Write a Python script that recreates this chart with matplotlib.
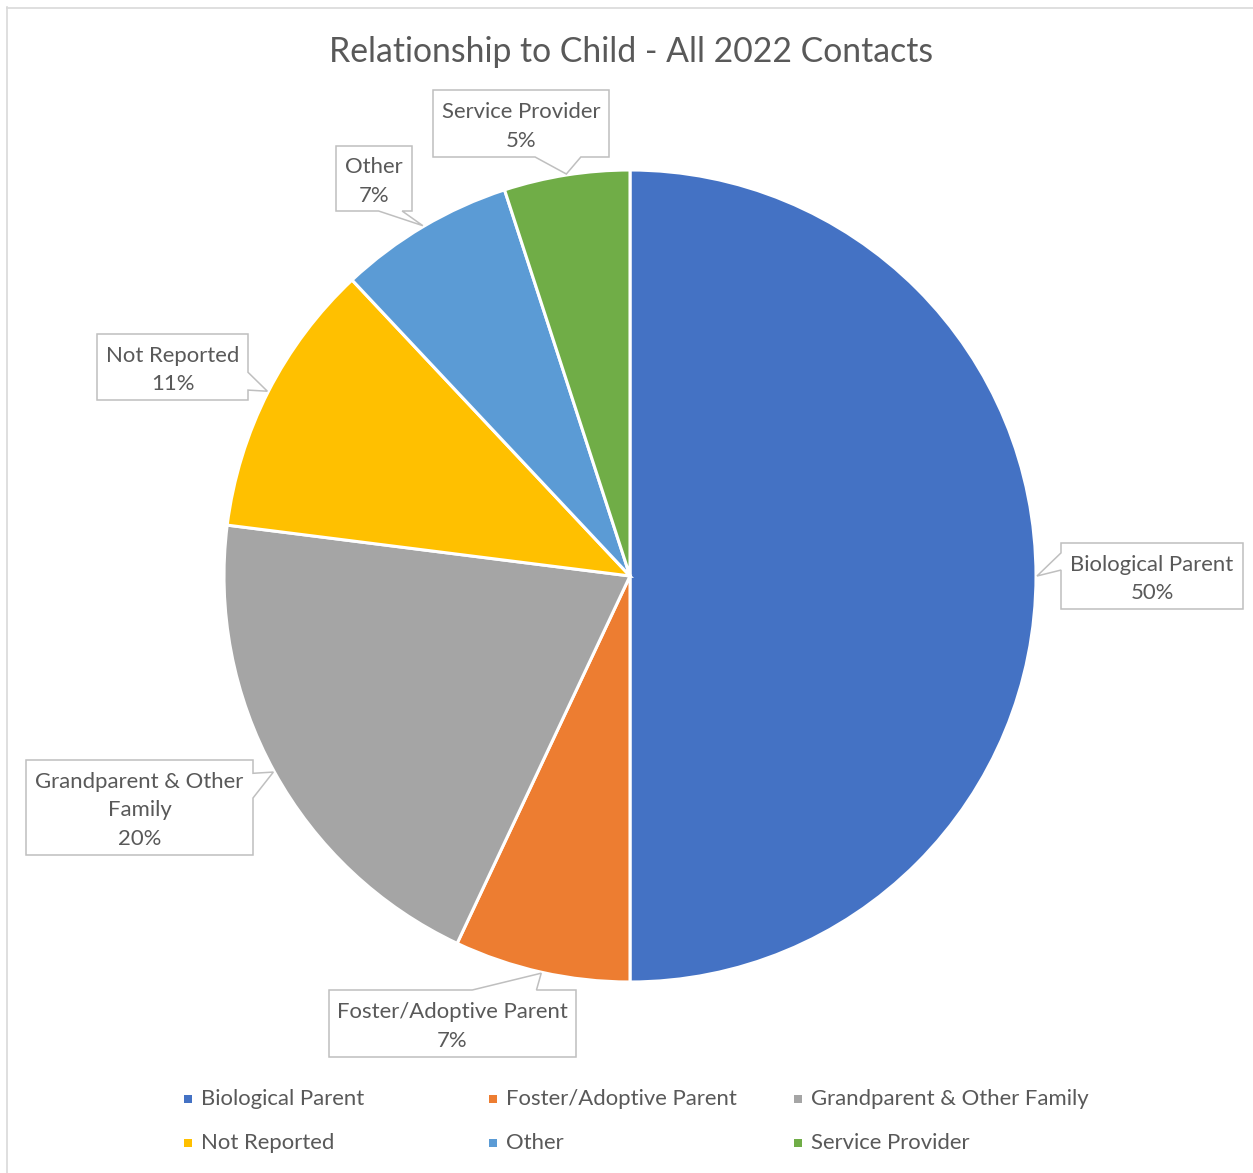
import matplotlib
matplotlib.use("Agg")
import matplotlib.pyplot as plt
import numpy as np
from matplotlib.patches import Polygon, Rectangle
from matplotlib.lines import Line2D

# --- data -------------------------------------------------------------
categories = ["Biological Parent", "Foster/Adoptive Parent",
              "Grandparent & Other Family", "Not Reported", "Other",
              "Service Provider"]
shares = [50, 7, 20, 11, 7, 5]
colors = ["#4472C4", "#ED7D31", "#A5A5A5", "#FFC000", "#5B9BD5", "#70AD47"]
label_text = ["Biological Parent", "Foster/Adoptive Parent",
              "Grandparent & Other\nFamily", "Not Reported", "Other",
              "Service Provider"]
title = "Relationship to Child - All 2022 Contacts"

# --- layout (pixel units, y measured downward) -------------------------
W, H = 1253, 1173
CX, CY, R = 630, 576, 406
TEXT = "#595959"
plt.rcParams["font.family"] = ["Lato", "DejaVu Sans"]

# callout boxes: (x0, y0, x1, y1), side carrying the pointer, base fractions
callouts = [
    ((1061, 543, 1243, 609), "left", (0.15, 0.41)),
    ((329, 990, 576, 1057), "top", (0.58, 0.84)),
    ((26, 760, 253, 855), "right", (0.14, 0.40)),
    ((97, 334, 248, 400), "right", (0.58, 0.85)),
    ((336, 146, 412, 211), "bottom", (0.56, 0.87)),
    ((433, 90, 609, 157), "bottom", (0.58, 0.84)),
]
legend_cols = [188, 493, 798]
legend_rows = [1099, 1143]


def py(y):
    return H - y


fig = plt.figure(figsize=(W / 100, H / 100), dpi=100)
ax = fig.add_axes([0, 0, 1, 1])

wedges, _ = ax.pie(shares, colors=colors, startangle=90, counterclock=False,
                   radius=R, center=(CX, py(CY)),
                   wedgeprops=dict(edgecolor="white", linewidth=2.2))
ax.set_xlim(0, W)
ax.set_ylim(0, H)
ax.set_aspect("equal")
ax.axis("off")

fs = 15.9

for w, lab, v, (box, side, (f1, f2)) in zip(wedges, label_text, shares, callouts):
    th = np.deg2rad((w.theta1 + w.theta2) / 2)
    tx = w.center[0] + (w.r + 1) * np.cos(th)
    ty = H - (w.center[1] + (w.r + 1) * np.sin(th))
    x0, y0, x1, y1 = box
    bw, bh = x1 - x0, y1 - y0
    TL, TR, BR, BL = (x0, y0), (x1, y0), (x1, y1), (x0, y1)
    tip = (tx, ty)
    if side == "top":
        pts = [TL, (x0 + f1 * bw, y0), tip, (x0 + f2 * bw, y0), TR, BR, BL]
    elif side == "right":
        pts = [TL, TR, (x1, y0 + f1 * bh), tip, (x1, y0 + f2 * bh), BR, BL]
    elif side == "bottom":
        pts = [TL, TR, BR, (x0 + f2 * bw, y1), tip, (x0 + f1 * bw, y1), BL]
    else:
        pts = [TL, TR, BR, BL, (x0, y0 + f2 * bh), tip, (x0, y0 + f1 * bh)]
    pts = [(x, py(y)) for x, y in pts]
    ax.add_patch(Polygon(pts, closed=True, facecolor="white",
                         edgecolor="#BFBFBF", linewidth=1.1, zorder=5))
    ax.text((x0 + x1) / 2, py((y0 + y1) / 2 + 3), f"{lab}\n{v:.0f}%",
            ha="center", va="center", multialignment="center",
            fontsize=fs, color=TEXT, linespacing=1.55, zorder=6)

ax.text(631, py(52), title, ha="center", va="center", fontsize=24.3,
        color=TEXT)

# legend, laid out row by row in three columns
for i, (cat, c) in enumerate(zip(categories, colors)):
    row, col = divmod(i, 3)
    mx, my = legend_cols[col], legend_rows[row]
    ax.add_patch(Rectangle((mx - 4, py(my) - 4), 8, 8, facecolor=c,
                           edgecolor="none"))
    ax.text(mx + 13, py(my), cat, ha="left", va="center", fontsize=fs,
            color=TEXT)

# chart area outline (left and top edges)
fig.add_artist(Line2D([6.5 / W, 6.5 / W], [0, 1 - 7 / H], color="#D9D9D9",
                      linewidth=1.2, transform=fig.transFigure))
fig.add_artist(Line2D([6.5 / W, 1], [1 - 7.5 / H, 1 - 7.5 / H],
                      color="#D9D9D9", linewidth=1.2,
                      transform=fig.transFigure))

fig.savefig("out.png", dpi=100)
